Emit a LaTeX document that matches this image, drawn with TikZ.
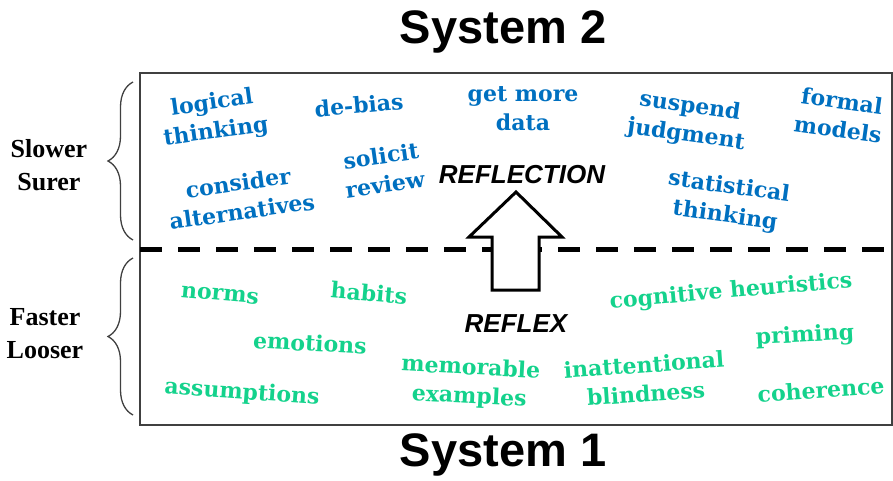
\documentclass[tikz,border=0pt]{standalone}
\usepackage{fontspec}
\setmainfont{Liberation Serif}
\setsansfont{Liberation Sans}
\newfontfamily\wordfont{DejaVu Serif}
\usetikzlibrary{decorations.pathreplacing}
\definecolor{slowblue}{RGB}{0,112,192}
\definecolor{fastgreen}{RGB}{20,210,140}

\begin{document}
\begin{tikzpicture}[x=1pt,y=-1pt,
  title/.style={font=\fontsize{47}{50}\selectfont\sffamily\bfseries,inner sep=0pt},
  side/.style={font=\fontsize{26}{33}\selectfont\bfseries,align=center,inner sep=0pt},
  mode/.style={font=\fontsize{26}{30}\selectfont\sffamily\bfseries\itshape,inner sep=0pt},
  slow/.style={font=\fontsize{22}{29}\selectfont\wordfont\bfseries,text=slowblue,align=center,inner sep=0pt},
  fast/.style={font=\fontsize{22}{29}\selectfont\wordfont\bfseries,text=fastgreen,align=center,inner sep=0pt},
  curly/.style={decorate,decoration={brace,amplitude=25pt},line width=1.3pt,black!75}]
  \useasboundingbox (0,0) rectangle (893,481);
  % frame and divider
  \draw[line width=1.3pt,black!75] (140,73) rectangle (892,425);
  \draw[line width=5pt,dash pattern=on 22pt off 16pt] (140,249) -- (893,249);
  % titles
  \node[title] (sys2) at (503,32) {System 2};
  \node[title] (sys1) at (503,455) {System 1};
  % sides
  \draw[curly] (133,240) -- (133,82);
  \draw[curly] (133,415) -- (133,258);
  \node[side] (slower) at (49,165) {Slower\\Surer};
  \node[side] (faster) at (45,334) {Faster\\Looser};
  % arrow
  \draw[line width=3pt,fill=white,line join=miter]
    (492,290) -- (492,237) -- (469,237) -- (516,192) -- (562,237) -- (539,237) -- (539,290) -- cycle;
  \node[mode] (reflection) at (522,175) {REFLECTION};
  \node[mode] (reflex) at (516,324) {REFLEX};
  % system 2 words
  \node[slow,rotate=8] (logical) at (214,118) {logical\\thinking};
  \node[slow,rotate=5] (debias) at (359,105) {de-bias};
  \node[slow] (getmore) at (523,109) {get more\\data};
  \node[slow,rotate=-8] (suspend) at (688,121) {suspend\\judgment};
  \node[slow,rotate=-8] (formal) at (840,115) {formal\\models};
  \node[slow,rotate=8] (solicit) at (383,170) {solicit\\review};
  \node[slow,rotate=8] (consider) at (240,197) {consider\\alternatives};
  \node[slow,rotate=-8] (statistical) at (727,202) {statistical\\thinking};
  % system 1 words
  \node[fast,rotate=-5] (norms) at (220,295) {norms};
  \node[fast,rotate=-5] (habits) at (369,293) {habits};
  \node[fast,rotate=-3] (emotions) at (310,343) {emotions};
  \node[fast,rotate=-4] (assumptions) at (242,393) {assumptions};
  \node[fast,rotate=-3] (memorable) at (470,383) {memorable\\examples};
  \node[fast,rotate=4] (inattentional) at (645,379) {inattentional\\blindness};
  \node[fast,rotate=5] (cognitive) at (731,292) {cognitive heuristics};
  \node[fast,rotate=3] (priming) at (805,336) {priming};
  \node[fast,rotate=4] (coherence) at (821,390) {coherence};
\end{tikzpicture}
\end{document}
